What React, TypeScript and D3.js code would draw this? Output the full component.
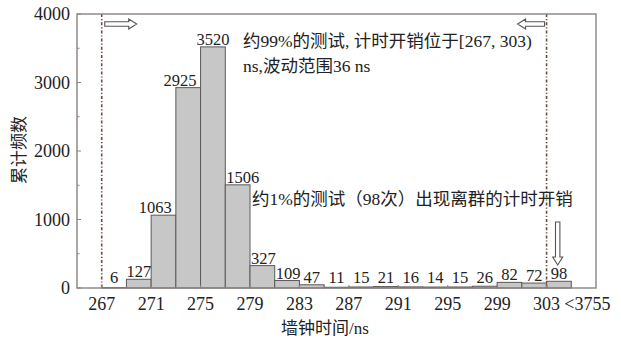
import React, { useEffect } from "react";
import * as d3 from "d3";

// Histogram of wall-clock timing overhead (ns), 2 ns bins; last bin collects outliers up to 3755 ns
const binStarts = [267, 269, 271, 273, 275, 277, 279, 281, 283, 285, 287, 289, 291, 293, 295, 297, 299, 301, 303];
const counts = [6, 127, 1063, 2925, 3520, 1506, 327, 109, 47, 11, 15, 21, 16, 14, 15, 26, 82, 72, 98];
const binWidth = 2;

const xTickValues = [267, 271, 275, 279, 283, 287, 291, 295, 299, 303];
const outlierLabel = "<3755";
const yTickValues = [0, 1000, 2000, 3000, 4000];
const yMinorTicks = [500, 1500, 2500, 3500];
const boundaries = [267, 303];

const yTitle = "累计频数";
const xTitle = "墙钟时间/ns";
const note1a = "约99%的测试, 计时开销位于[267, 303)";
const note1b = "ns,波动范围36 ns";
const note2 = "约1%的测试（98次）出现离群的计时开销";

const W = 621;
const H = 341;
const left = 77, right = 596, top = 14, bottom = 288;

const FONT = "'Liberation Serif', 'Noto Sans CJK SC', serif";
const AXIS = "#8a8380";
const TEXT = "#222";

// Hollow block arrow, pointing from (x1,y1) to (x2,y2)
function HollowArrow({ x1, y1, x2, y2 }: { x1: number; y1: number; x2: number; y2: number }) {
  const len = Math.hypot(x2 - x1, y2 - y1);
  const ang = (Math.atan2(y2 - y1, x2 - x1) * 180) / Math.PI;
  const sw = 2.2; // half shaft width
  const hw = 5; // half head width
  const hl = 8; // head length
  const pts = [
    [0, -sw], [len - hl, -sw], [len - hl, -hw], [len, 0],
    [len - hl, hw], [len - hl, sw], [0, sw],
  ].map((p) => p.join(",")).join(" ");
  return (
    <polygon
      points={pts}
      transform={`translate(${x1},${y1}) rotate(${ang})`}
      fill="#fff"
      stroke="#555"
      strokeWidth={1.1}
    />
  );
}

export default function App() {
  useEffect(() => {
    document.body.style.margin = "0";
  }, []);

  const x = d3.scaleLinear().domain([265, 307]).range([left, right]);
  const y = d3.scaleLinear().domain([0, 4000]).range([bottom, top]);

  // Value labels step aside from a taller neighbouring bar
  const labelPlacement = (i: number) => {
    const c = counts[i];
    const b = binStarts[i];
    const prev = i > 0 ? counts[i - 1] : 0;
    const next = i < counts.length - 1 ? counts[i + 1] : 0;
    if (c >= 1000 && next > c) return { x: x(b + binWidth) - 4, anchor: "end" };
    if (c >= 100 && prev > c) return { x: x(b) + 1, anchor: "start" };
    return { x: x(b + binWidth / 2), anchor: "middle" };
  };

  return (
    <svg width={W} height={H} style={{ display: "block", background: "#fff" }} fontFamily={FONT}>
      {/* bars */}
      {binStarts.map((b, i) => (
        <rect
          key={b}
          x={x(b)}
          y={y(counts[i])}
          width={x(b + binWidth) - x(b)}
          height={bottom - y(counts[i])}
          fill="#c7c7c7"
          stroke="#5e5858"
          strokeWidth={1}
        />
      ))}

      {/* value labels */}
      {binStarts.map((b, i) => {
        const p = labelPlacement(i);
        return (
          <text
            key={"v" + b}
            x={p.x}
            y={Math.min(y(counts[i]) - 2, 283)}
            textAnchor={p.anchor}
            fontSize={16.5}
            fill={TEXT}
          >
            {counts[i]}
          </text>
        );
      })}

      {/* boundary lines */}
      {boundaries.map((v) => (
        <line
          key={"b" + v}
          x1={x(v)}
          x2={x(v)}
          y1={top}
          y2={bottom}
          stroke="#6e4a40"
          strokeWidth={1.6}
          strokeDasharray="3,2,1.2,2"
        />
      ))}

      {/* frame */}
      <rect x={left} y={top} width={right - left} height={bottom - top} fill="none" stroke={AXIS} strokeWidth={1.4} />

      {/* y ticks */}
      {yTickValues.map((v) => (
        <g key={"y" + v}>
          <line x1={left} x2={left + 4} y1={y(v)} y2={y(v)} stroke={AXIS} />
          <text x={70} y={y(v)} dy="0.35em" textAnchor="end" fontSize={18} fill={TEXT}>
            {v}
          </text>
        </g>
      ))}
      {yMinorTicks.map((v) => (
        <line key={"ym" + v} x1={left} x2={left + 2.5} y1={y(v)} y2={y(v)} stroke={AXIS} />
      ))}

      {/* x ticks */}
      {xTickValues.map((v) => (
        <g key={"x" + v}>
          <line x1={x(v)} x2={x(v)} y1={bottom} y2={bottom - 3} stroke={AXIS} />
          <text x={x(v)} y={310} textAnchor="middle" fontSize={18} fill={TEXT}>
            {v}
          </text>
        </g>
      ))}
      <text x={x(303 + binWidth) - 7} y={310} textAnchor="start" fontSize={18} fill={TEXT}>
        {outlierLabel}
      </text>

      {/* axis titles */}
      <text
        transform={`translate(25,150) rotate(-90)`}
        textAnchor="middle"
        fontSize={17}
        fill={TEXT}
      >
        {yTitle}
      </text>
      <text x={325} y={334} textAnchor="middle" fontSize={17} fill={TEXT}>
        {xTitle}
      </text>

      {/* annotations */}
      <text x={243} y={47} fontSize={17.5} fill={TEXT}>{note1a}</text>
      <text x={243} y={72} fontSize={17.5} fill={TEXT}>{note1b}</text>
      <text x={252} y={205} fontSize={17.5} fill={TEXT}>{note2}</text>

      {/* arrows */}
      <HollowArrow x1={x(267) + 3} y1={24} x2={x(267) + 35} y2={24} />
      <HollowArrow x1={x(303) - 2} y1={24} x2={x(303) - 29} y2={24} />
      <HollowArrow x1={x(303.9)} y1={222} x2={x(303.9)} y2={265} />
    </svg>
  );
}
